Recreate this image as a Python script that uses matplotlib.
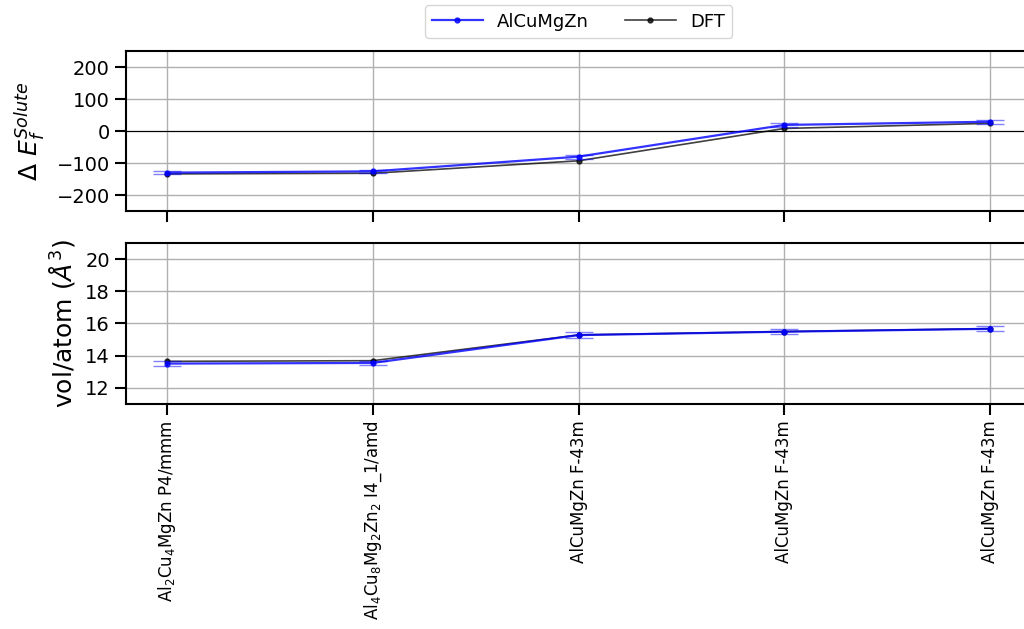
import matplotlib
matplotlib.use('Agg')
import matplotlib.pyplot as plt
from matplotlib.lines import Line2D
import numpy as np

# structures on the x axis
labels = [r'Al$_2$Cu$_4$MgZn P4/mmm',
          r'Al$_4$Cu$_8$Mg$_2$Zn$_2$ I4_1/amd',
          'AlCuMgZn F-43m',
          'AlCuMgZn F-43m',
          'AlCuMgZn F-43m']

# solute formation energy
ef_pot = [-130, -126, -80, 19, 29]
ef_pot_err = [5, 5, 6, 6, 6]
ef_dft = [-134, -132, -93, 8, 24]

# volume per atom
vol_pot = [13.51, 13.55, 15.28, 15.49, 15.67]
vol_pot_err = [0.15, 0.15, 0.2, 0.15, 0.15]
vol_dft = [13.65, 13.69, 15.29, 15.50, 15.68]

x = np.arange(len(labels))

plt.rcParams['axes.linewidth'] = 1.5
plt.rcParams['xtick.major.width'] = 1.5
plt.rcParams['ytick.major.width'] = 1.5
plt.rcParams['xtick.major.size'] = 8
plt.rcParams['ytick.major.size'] = 8

fig = plt.figure(figsize=(10.24, 6.29), dpi=100)
ax1 = fig.add_axes([0.123, 0.6645, 0.884, 0.2544])
ax2 = fig.add_axes([0.123, 0.3577, 0.884, 0.256])

def panel(ax, pot, err, dft):
  ax.errorbar(x, pot, yerr=err, color='blue', marker='.', lw=1.6, ms=7,
              ecolor='blue', elinewidth=1.5, capsize=10, alpha=0.8,
              zorder=4)
  for c in ax.containers:
    for cap in c[1]:
      cap.set_alpha(0.5)
    for bar in c[2]:
      bar.set_alpha(0.5)
  ax.plot(x, dft, color='black', marker='.', lw=1.2, ms=7, alpha=0.75,
          zorder=3)
  ax.grid(True, color='#b0b0b0', lw=1)
  ax.set_axisbelow(True)
  ax.set_xlim(-0.2, 4.2)
  ax.set_xticks(x)
  ax.tick_params(axis='y', labelsize=14)

panel(ax1, ef_pot, ef_pot_err, ef_dft)
ax1.axhline(0, color='black', lw=0.8, zorder=2)
ax1.set_ylim(-250, 250)
ax1.set_yticks([-200, -100, 0, 100, 200])
ax1.set_xticklabels([])
ax1.set_ylabel(r'$\Delta\ E_f^{Solute}$', fontsize=18, labelpad=6)

panel(ax2, vol_pot, vol_pot_err, vol_dft)
ax2.set_ylim(11, 21)
ax2.set_yticks([12, 14, 16, 18, 20])
ax2.set_xticklabels(labels, rotation=90, fontsize=12, va='top')
ax2.set_ylabel(r'vol/atom ($\AA^3$)', fontsize=18, labelpad=6)

fig.align_ylabels([ax1, ax2])

handles = [Line2D([], [], color='blue', marker='.', lw=1.6, ms=7, alpha=0.8),
           Line2D([], [], color='black', marker='.', lw=1.2, ms=7, alpha=0.75)]
fig.legend(handles, ['AlCuMgZn', 'DFT'], loc='upper center',
           bbox_to_anchor=(0.565, 1.0), ncol=2, fontsize=13, framealpha=0.8,
           borderaxespad=0.3, handlelength=2.8)

plt.savefig('out.png', dpi=100)
plt.close()
